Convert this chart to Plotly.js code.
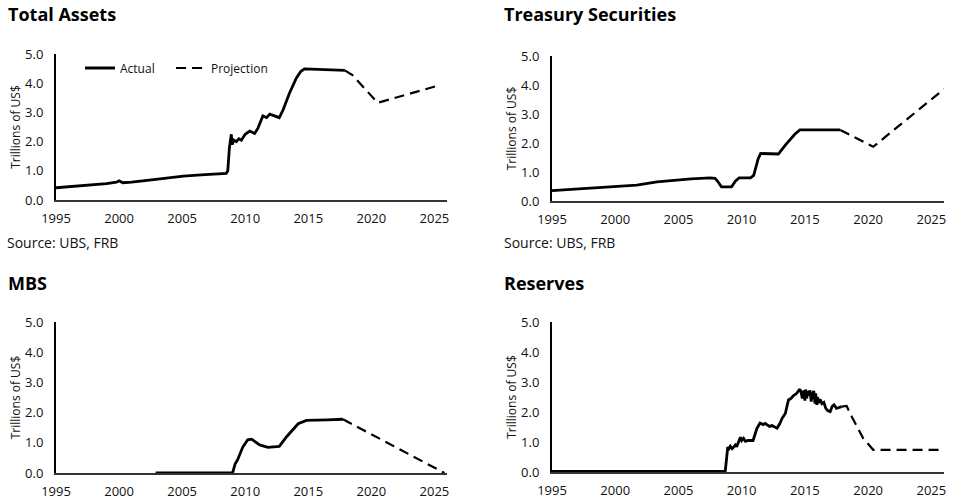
<!DOCTYPE html>
<html>
<head>
<meta charset="utf-8">
<script src="https://cdn.plot.ly/plotly-3.0.1.min.js"></script>
<style>html,body{margin:0;padding:0;background:#fff;}#chart{width:958px;height:500px;}</style>
</head>
<body>
<div id="chart"></div>
<script>
// ---- Data (trillions of US$, decimal years) ----
const panelTitles = ["Total Assets", "Treasury Securities", "MBS", "Reserves"];
const sourceText = "Source: UBS, FRB";
const yTitle = "Trillions of US$";
const xTicks = [1995, 2000, 2005, 2010, 2015, 2020, 2025];
const xTickText = ["1995", "2000", "2005", "2010", "2015", "2020", "2025"];
const yTicks = [0, 1, 2, 3, 4, 5];
const yTickText = ["0.0", "1.0", "2.0", "3.0", "4.0", "5.0"];

const assetsYears = [1995, 1996, 1997, 1998, 1999, 1999.8, 2000.0, 2000.3, 2001, 2002.4, 2003.5, 2005.1, 2006.5, 2007.5, 2008.5, 2008.62, 2008.75, 2008.9, 2008.97, 2009.1, 2009.3, 2009.5, 2009.7, 2010.0, 2010.36, 2010.75, 2011.0, 2011.4, 2011.7, 2011.95, 2012.3, 2012.7, 2013.0, 2013.5, 2014.05, 2014.4, 2014.7, 2015.5, 2016.4, 2017.0, 2017.9];
const assetsActual = [0.42, 0.45, 0.48, 0.52, 0.56, 0.61, 0.66, 0.59, 0.61, 0.68, 0.74, 0.82, 0.86, 0.89, 0.91, 1.0, 1.8, 2.25, 1.9, 2.05, 2.0, 2.1, 2.05, 2.25, 2.36, 2.28, 2.45, 2.88, 2.82, 2.94, 2.88, 2.82, 3.08, 3.65, 4.17, 4.4, 4.49, 4.48, 4.47, 4.44, 4.44];
const assetsProjYears = [2017.9, 2018.5, 2020.5, 2025.5];
const assetsProj = [4.44, 4.28, 3.33, 3.94];

const treasYears = [1995, 1997, 1999, 2001.7, 2003.3, 2004.6, 2006, 2007.5, 2007.9, 2008.1, 2008.4, 2009.2, 2009.5, 2009.8, 2010.7, 2010.95, 2011.3, 2011.5, 2012.9, 2013.5, 2014.2, 2014.6, 2016, 2017.8];
const treasActual = [0.36, 0.41, 0.48, 0.55, 0.66, 0.72, 0.76, 0.80, 0.78, 0.68, 0.49, 0.49, 0.68, 0.80, 0.80, 0.88, 1.45, 1.64, 1.62, 1.95, 2.3, 2.45, 2.46, 2.45];
const treasProjYears = [2017.8, 2020.4, 2026.0];
const treasProj = [2.45, 1.87, 3.86];

const mbsYears = [2002.9, 2009.0, 2009.2, 2009.4, 2009.8, 2010.2, 2010.5, 2010.8, 2011.15, 2011.8, 2012.3, 2012.7, 2013.3, 2014.2, 2014.85, 2015.5, 2016.5, 2017.75];
const mbsActual = [0, 0, 0.3, 0.44, 0.85, 1.1, 1.12, 1.03, 0.93, 0.85, 0.86, 0.88, 1.21, 1.63, 1.74, 1.74, 1.76, 1.78];
const mbsProjYears = [2017.75, 2025.8];
const mbsProj = [1.78, 0];

const resYears = [1995, 2008.7, 2008.9, 2009.0, 2009.1, 2009.25, 2009.35, 2009.5, 2009.6, 2009.75, 2009.9, 2010.0, 2010.15, 2010.3, 2010.5, 2010.9, 2011.2, 2011.45, 2011.7, 2011.85, 2012.0, 2012.2, 2012.4, 2012.8, 2013.0, 2013.2, 2013.45, 2013.7, 2013.9, 2014.1, 2014.3, 2014.5, 2014.6, 2014.7, 2014.8, 2014.9, 2015.0, 2015.05, 2015.15, 2015.2, 2015.3, 2015.4, 2015.5, 2015.6, 2015.7, 2015.8, 2015.85, 2015.95, 2016.0, 2016.1, 2016.2, 2016.35, 2016.5, 2016.65, 2016.8, 2017.0, 2017.15, 2017.3, 2017.5, 2017.65, 2017.9];
const resActual = [0.02, 0.03, 0.83, 0.78, 0.86, 0.78, 0.82, 0.90, 0.84, 1.0, 1.16, 1.05, 1.12, 1.02, 1.05, 1.05, 1.45, 1.63, 1.58, 1.62, 1.57, 1.52, 1.55, 1.46, 1.60, 1.79, 1.95, 2.40, 2.45, 2.55, 2.60, 2.70, 2.76, 2.65, 2.45, 2.72, 2.38, 2.75, 2.45, 2.70, 2.55, 2.72, 2.35, 2.60, 2.70, 2.28, 2.62, 2.24, 2.50, 2.30, 2.42, 2.28, 2.32, 2.12, 2.05, 2.01, 2.18, 2.24, 2.12, 2.14, 2.18];
const resProjYears = [2017.9, 2018.3, 2018.7, 2019.6, 2020.4, 2026.0];
const resProj = [2.18, 2.2, 1.85, 1.13, 0.74, 0.74];

// ---- Build ----
const W = 958, H = 500;
const FONT = "Open Sans, Noto Sans, sans-serif";
const solid = {color: "#000", width: 2.8};
const dashed = {color: "#000", width: 2.2, dash: "10px,6px"};

const series = [
  [assetsYears, assetsActual, assetsProjYears, assetsProj],
  [treasYears, treasActual, treasProjYears, treasProj],
  [mbsYears, mbsActual, mbsProjYears, mbsProj],
  [resYears, resActual, resProjYears, resProj]
];

// pixel boxes of the four plot areas [left, right, top, bottom]
const boxes = [[56, 447, 54, 200], [552, 944, 56, 201], [56, 447, 322, 473], [552, 944, 322, 472]];

const data = [];
series.forEach((s, i) => {
  const ax = i === 0 ? "" : String(i + 1);
  data.push({x: s[0], y: s[1], type: "scatter", mode: "lines", name: "Actual", line: solid,
    xaxis: "x" + ax, yaxis: "y" + ax, showlegend: i === 0, legend: "legend", hoverinfo: "skip"});
  data.push({x: s[2], y: s[3], type: "scatter", mode: "lines", name: "Projection", line: dashed,
    xaxis: "x" + ax, yaxis: "y" + ax, showlegend: i === 0, legend: "legend2", hoverinfo: "skip"});
});

const legendCommon = {orientation: "h", xanchor: "left", y: 1 - 68 / H, yanchor: "middle",
  bgcolor: "rgba(0,0,0,0)", font: {size: 12, color: "#111", family: FONT}};

const layout = {
  width: W, height: H,
  margin: {l: 0, r: 0, t: 0, b: 0},
  paper_bgcolor: "#fff", plot_bgcolor: "#fff",
  font: {family: FONT, color: "#111", size: 13},
  showlegend: true,
  legend: Object.assign({x: 80 / W}, legendCommon),
  legend2: Object.assign({x: 171 / W}, legendCommon),
  annotations: []
};

boxes.forEach((b, i) => {
  const ax = i === 0 ? "" : String(i + 1);
  layout["xaxis" + ax] = {
    domain: [b[0] / W, b[1] / W], anchor: "y" + ax,
    range: [1995, 2026], tickmode: "array", tickvals: xTicks, ticktext: xTickText,
    showgrid: false, zeroline: false, showline: true, linecolor: "#333", linewidth: 1.5,
    ticks: "", ticklabelstandoff: 6, tickfont: {size: 13, color: "#111", family: FONT}, fixedrange: true
  };
  layout["yaxis" + ax] = {
    domain: [1 - b[3] / H, 1 - b[2] / H], anchor: "x" + ax,
    range: [0, 5], tickmode: "array", tickvals: yTicks, ticktext: yTickText,
    showgrid: false, zeroline: false, showline: true, linecolor: "#000", linewidth: 2,
    ticks: "", ticklabelstandoff: 8, tickfont: {size: 13, color: "#111", family: FONT},
    title: {text: yTitle, font: {size: 12, color: "#111", family: FONT}, standoff: 2}, fixedrange: true
  };
});

const titlePos = [[6, 14], [502, 14], [6, 283], [502, 283]];
panelTitles.forEach((t, i) => {
  layout.annotations.push({text: t, xref: "paper", yref: "paper", x: titlePos[i][0] / W, y: 1 - titlePos[i][1] / H,
    xanchor: "left", yanchor: "middle", showarrow: false,
    font: {size: 18, color: "#000", family: FONT, weight: "bold"}});
});
[[5, 242], [502, 242]].forEach(p => {
  layout.annotations.push({text: sourceText, xref: "paper", yref: "paper", x: p[0] / W, y: 1 - p[1] / H,
    xanchor: "left", yanchor: "middle", showarrow: false, font: {size: 14, color: "#111", family: FONT}});
});

Plotly.newPlot("chart", data, layout, {displayModeBar: false, staticPlot: true});
</script>
</body>
</html>
